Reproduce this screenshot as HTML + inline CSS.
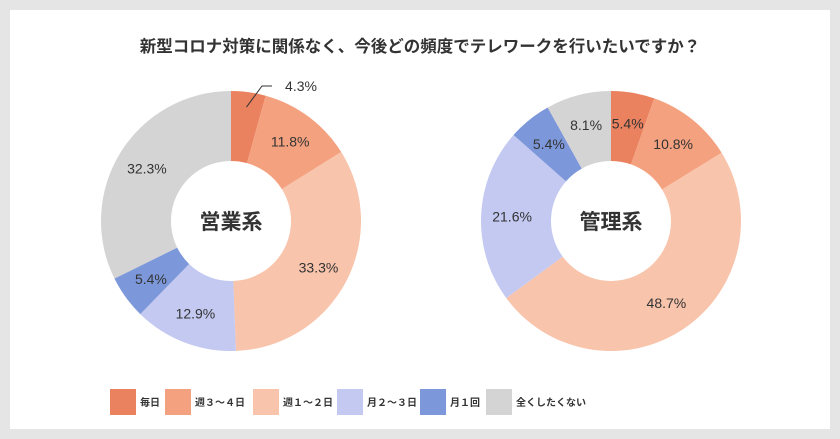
<!DOCTYPE html>
<html><head><meta charset="utf-8"><style>
body{margin:0;background:#e5e5e5;width:840px;height:439px;overflow:hidden;font-family:"Liberation Sans","Noto Sans CJK JP",sans-serif}
#card{position:absolute;left:10px;top:10px;width:820px;height:419px;background:#fff}
</style></head><body>
<div id="card"></div>
<svg id="svg" width="840" height="439" style="position:absolute;left:0;top:0">
<text x="420" y="52" text-anchor="middle" font-size="16.5" font-weight="bold" fill="#333">新型コロナ対策に関係なく、今後どの頻度でテレワークを行いたいですか？</text>
</svg>
<script>
const categories=["毎日","週３～４日","週１～２日","月２～３日","月１回","全くしたくない"];
const colors=["#ea8260","#f4a17f","#f8c4ab","#c3c9f1","#7d98da","#d4d4d4"];
const groups=["営業系","管理系"];
const salesValues=[4.3,11.8,33.3,12.9,5.4,32.3];
const adminValues=[5.4,10.8,48.7,21.6,5.4,8.1];
const svg=document.getElementById('svg');
const NS='http://www.w3.org/2000/svg';
function mk(t,a){const e=document.createElementNS(NS,t);for(const k in a)e.setAttribute(k,a[k]);svg.appendChild(e);return e;}
function pt(cx,cy,r,f){const a=f*2*Math.PI;return [cx+r*Math.sin(a),cy-r*Math.cos(a)];}
function donut(cx,cy,vals,name,gi){
  const R=130,r=60;const tot=vals.reduce((a,b)=>a+b,0);let acc=0;
  vals.forEach((v,i)=>{
    const f0=acc/tot,f1=(acc+v)/tot;acc+=v;
    const [x0,y0]=pt(cx,cy,R,f0),[x1,y1]=pt(cx,cy,R,f1),[x2,y2]=pt(cx,cy,r,f1),[x3,y3]=pt(cx,cy,r,f0);
    const lg=(f1-f0)>0.5?1:0;
    const p=mk('path',{d:`M${x0},${y0}A${R},${R} 0 ${lg} 1 ${x1},${y1}L${x2},${y2}A${r},${r} 0 ${lg} 0 ${x3},${y3}Z`,fill:colors[i]});
    
    
    const fm=(f0+f1)/2;let lx,ly;
    if(v<5&&gi===0){
      const [ax,ay]=pt(cx,cy,R-15,fm);
      mk('polyline',{points:`${ax},${ay} ${cx+31},${cy-135} ${cx+41},${cy-135}`,fill:'none',stroke:'#333','stroke-width':1});
      lx=cx+70;ly=cy-130;
    } else {[lx,ly]=pt(cx,cy,99,fm);ly+=5;}
    const t=mk('text',{x:lx,y:ly,'text-anchor':'middle','font-size':14,fill:'#333'});
    t.textContent=v.toFixed(1)+'%';
    
    
  });
  const c=mk('text',{x:cx,y:cy+8,'text-anchor':'middle','font-size':21,'font-weight':'bold',fill:'#333'});
  c.textContent=name;
  
  
}
donut(231,221,salesValues,groups[0],0);
donut(611,221,adminValues,groups[1],1);
const lx=[110,165,253,337,420,486];
categories.forEach((c,i)=>{
  const b=mk('rect',{x:lx[i],y:389,width:26,height:26,fill:colors[i]});
  
  
  const t=mk('text',{x:lx[i]+30,y:406,'font-size':10,'font-weight':'bold',fill:'#333'});
  t.textContent=c;
  
  
});
</script>
</body></html>
